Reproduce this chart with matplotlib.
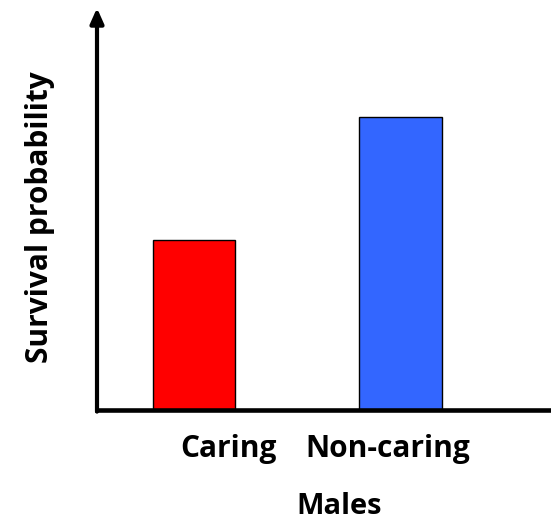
import matplotlib.pyplot as plt

# data
groups = ["Caring", "Non-caring"]
survival = [0.43, 0.74]
bar_colors = ["#ff0000", "#3366ff"]

plt.rcParams["font.family"] = ["Open Sans", "DejaVu Sans"]
plt.rcParams["font.weight"] = "bold"

fig = plt.figure(figsize=(5.51, 5.25), dpi=100)
ax = fig.add_axes([97 / 551, 1 - 410 / 525, 453 / 551, 402 / 525])

x = list(range(len(groups)))
ax.bar(x, survival, width=0.4, color=bar_colors, edgecolor="black", linewidth=1, zorder=2)

ax.set_xlim(-0.47, 1.725)
ax.set_ylim(0, 1.015)

# axes: plain bottom line, arrow for the y axis
for side in ["top", "right", "left"]:
    ax.spines[side].set_visible(False)
ax.spines["bottom"].set_linewidth(3.3)
ax.spines["bottom"].set_zorder(3)
ax.annotate("", xy=(0, 1.0), xytext=(0, -0.004), xycoords="axes fraction",
            arrowprops=dict(arrowstyle="-|>,head_length=0.9,head_width=0.4",
                            lw=3, color="black", shrinkA=0, shrinkB=0))

ax.set_yticks([])
# labels sit a bit off the bar centres, as in the original
ax.set_xticks([x[0] + 0.165, x[1] - 0.06])
ax.set_xticklabels(groups, fontsize=21.5, fontweight="bold")
ax.tick_params(axis="x", length=0, pad=17)

ax.set_xlabel("Males", fontsize=21, fontweight="bold")
ax.xaxis.set_label_coords((339 - 97) / 453, -0.205)
ax.set_ylabel("Survival probability", fontsize=21.5, fontweight="bold")
ax.yaxis.set_label_coords(-0.093, (410 - 217) / 402)

fig.savefig("out.png", dpi=100)
